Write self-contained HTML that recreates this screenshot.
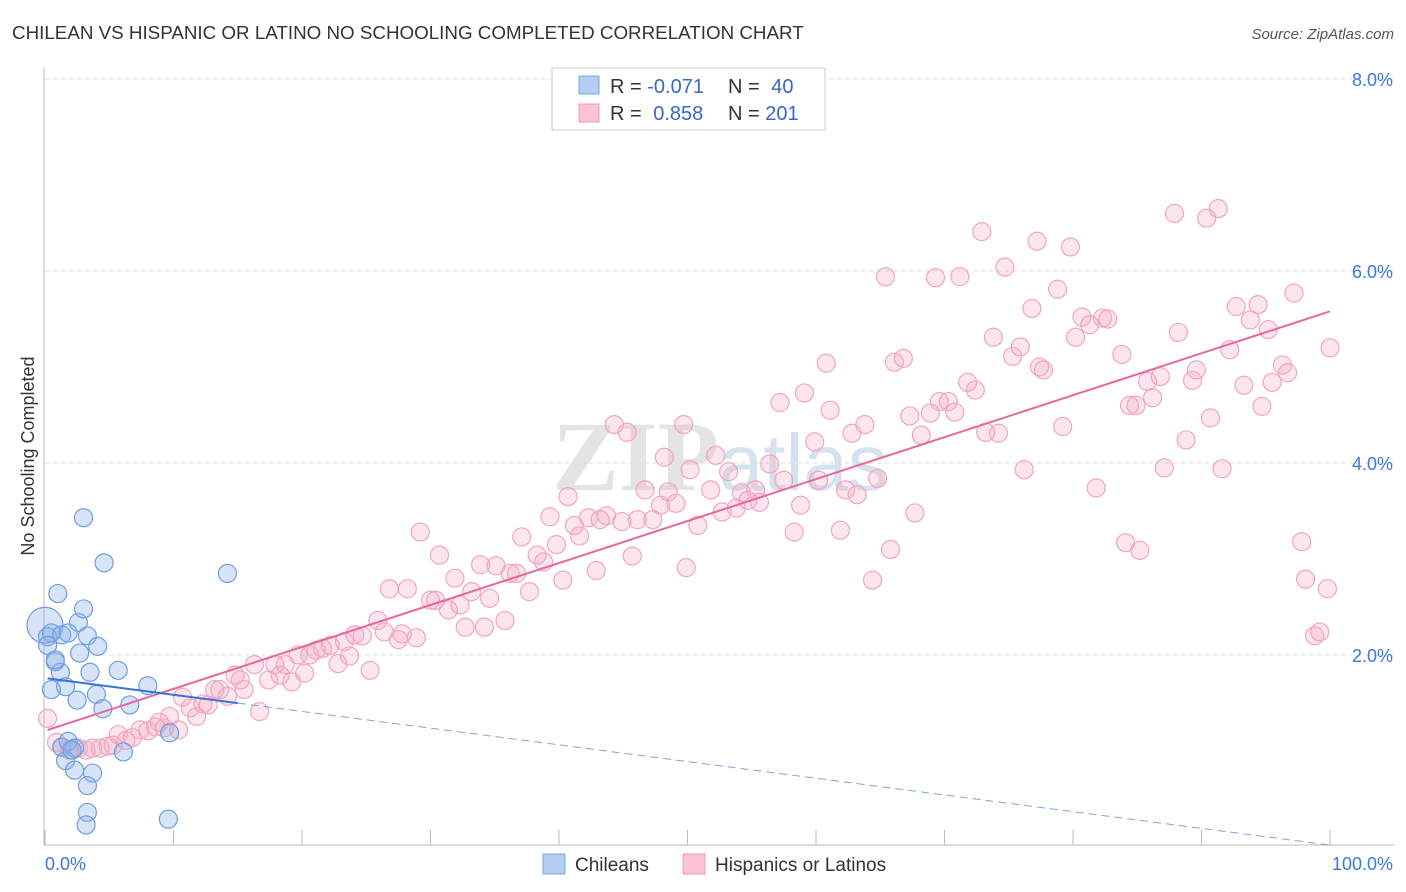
<!DOCTYPE html>
<html><head><meta charset="utf-8"><style>
body{margin:0;background:#fff;font-family:"Liberation Sans",sans-serif;}
svg{display:block}
</style></head><body>
<svg id="chart" width="1406" height="892">
<text x="12" y="39" font-size="18.8" fill="#333">CHILEAN VS HISPANIC OR LATINO NO SCHOOLING COMPLETED CORRELATION CHART</text>
<text x="1394" y="39" font-size="15" fill="#555" font-style="italic" text-anchor="end">Source: ZipAtlas.com</text>
<text x="720" y="490" font-size="100" fill="#e4e4e4" text-anchor="middle" font-family="Liberation Serif,serif" font-weight="bold">ZIP<tspan font-family="Liberation Sans" font-weight="normal" fill="#d6e2f0" font-size="80">atlas</tspan></text>
<g id="grid"></g><g id="axes"></g><g id="marks"></g>
<text transform="translate(34,456) rotate(-90)" font-size="18" fill="#333" text-anchor="middle">No Schooling Completed</text>
<g>
<rect x="552" y="68" width="273" height="62" fill="#fff" stroke="#ccc"/>
<rect x="579" y="76" width="20" height="18" fill="#b5cdf2" stroke="#7ca3dd"/>
<rect x="579" y="104" width="20" height="18" fill="#f9c3d3" stroke="#ee9bb6"/>
<text x="610" y="93" font-size="20" fill="#333">R = <tspan fill="#3568c8">-0.071</tspan></text>
<text x="728" y="93" font-size="20" fill="#333">N = <tspan fill="#3568c8" dx="6">40</tspan></text>
<text x="610" y="120" font-size="20" fill="#333">R = <tspan fill="#3568c8" dx="6">0.858</tspan></text>
<text x="728" y="120" font-size="20" fill="#333">N = <tspan fill="#3568c8">201</tspan></text>
</g>
<g><rect x="543" y="854" width="22" height="20" fill="#b5cdf2" stroke="#7ca3dd"/><text x="575" y="871" font-size="19" fill="#333">Chileans</text></g>
<g><rect x="683" y="854" width="22" height="20" fill="#f9c3d3" stroke="#ee9bb6"/><text x="715" y="871" font-size="19" fill="#333">Hispanics or Latinos</text></g>
</svg>
<script>
const yTicks=[2,4,6,8];
const yTickLabels=["2.0%","4.0%","6.0%","8.0%"];
const xEndLabels=["0.0%","100.0%"];
const blueTrend=[1.76,-0.0174];
const pinkTrend=[1.21,0.0437];
const blueX=[0,0.2,0.5,0.8,0.5,1.0,1.3,1.2,1.8,1.6,2.6,3.0,3.3,4.1,2.7,3.5,2.5,4.0,4.5,5.7,8.0,3.0,4.6,14.2,1.3,1.8,2.3,1.6,2.3,3.7,3.3,3.3,3.2,9.7,6.1,9.6,6.6,0.2,2.1,0.8];
const blueY=[2.31,2.19,2.23,1.93,1.64,2.64,2.21,1.82,2.23,1.67,2.34,2.48,2.20,2.09,2.02,1.82,1.53,1.59,1.44,1.84,1.68,3.43,2.96,2.85,1.04,1.10,1.03,0.90,0.80,0.77,0.64,0.36,0.23,1.19,0.99,0.29,1.48,2.10,1.01,1.95];
const pinkX=[0.2,0.9,1.3,1.9,2.6,3.2,3.7,4.3,4.9,5.3,5.7,6.3,6.8,7.4,8.0,8.6,8.9,9.3,9.7,10.4,10.7,11.3,11.8,12.3,12.7,13.2,13.6,14.2,14.8,15.2,15.5,16.3,16.7,17.4,17.9,18.3,18.7,19.2,19.7,20.2,20.6,21.1,21.6,22.2,22.8,23.3,23.7,24.1,24.7,25.3,25.9,26.4,26.8,27.5,27.8,28.2,28.9,29.2,30.0,30.4,30.7,31.4,31.9,32.3,32.7,33.2,33.9,34.2,34.6,35.1,35.8,36.2,36.7,37.1,37.7,38.3,38.8,39.3,39.8,40.3,40.7,41.2,41.6,42.3,42.9,43.2,43.7,44.3,44.9,45.3,45.7,46.1,46.7,47.3,47.9,48.2,48.5,49.1,49.7,49.9,50.2,50.8,51.8,52.2,52.7,53.2,53.8,54.2,54.7,55.3,55.6,56.4,57.2,57.5,58.3,58.8,59.1,59.9,60.2,60.8,61.1,61.9,62.3,62.8,63.2,63.8,64.4,64.8,65.4,65.8,66.1,66.8,67.3,67.7,68.2,68.9,69.3,69.6,70.3,70.8,71.2,71.8,72.4,72.9,73.2,73.8,74.2,74.7,75.3,75.9,76.2,76.8,77.2,77.4,77.7,78.8,79.2,79.8,80.2,80.7,81.3,81.8,82.3,82.7,83.8,84.1,84.4,84.9,85.2,85.8,86.2,86.8,87.1,87.9,88.2,88.8,89.3,89.6,90.4,90.7,91.3,91.6,92.2,92.7,93.3,93.8,94.4,94.7,95.2,95.5,96.3,96.7,97.2,97.8,98.1,98.8,99.2,99.8,100.0];
const pinkY=[1.34,1.09,1.04,1.01,1.03,1.01,1.03,1.03,1.05,1.06,1.17,1.11,1.14,1.22,1.21,1.25,1.30,1.24,1.36,1.22,1.56,1.45,1.36,1.49,1.48,1.64,1.64,1.57,1.79,1.74,1.64,1.90,1.41,1.74,1.90,1.79,1.90,1.72,2.00,1.81,2.00,2.05,2.07,2.10,1.91,2.14,1.99,2.21,2.20,1.84,2.36,2.24,2.69,2.16,2.22,2.69,2.18,3.28,2.57,2.57,3.04,2.47,2.80,2.52,2.29,2.66,2.94,2.29,2.59,2.93,2.36,2.85,2.85,3.23,2.66,3.04,2.97,3.44,3.15,2.78,3.65,3.35,3.24,3.43,2.88,3.41,3.45,4.40,3.39,4.32,3.03,3.41,3.72,3.41,3.56,4.06,3.70,3.58,4.40,2.91,3.93,3.35,3.72,4.08,3.49,3.91,3.53,3.69,3.61,3.72,3.59,3.99,4.63,3.82,3.28,3.56,4.73,4.22,3.82,5.04,4.55,3.30,3.72,4.31,3.67,4.40,2.78,3.84,5.94,3.10,5.05,5.09,4.49,3.48,4.29,4.52,5.93,4.64,4.64,4.53,5.94,4.84,4.76,6.41,4.32,5.31,4.31,6.04,5.11,5.21,3.93,5.61,6.31,5.00,4.97,5.81,4.38,6.25,5.31,5.52,5.44,3.74,5.51,5.50,5.13,3.17,4.60,4.60,3.09,4.85,4.68,4.90,3.95,6.60,5.36,4.24,4.86,4.97,6.55,4.47,6.65,3.94,5.18,5.63,4.81,5.49,5.65,4.59,5.39,4.84,5.02,4.94,5.77,3.18,2.79,2.20,2.24,2.69,5.20];

const NS="http://www.w3.org/2000/svg";
const X0=45,X1=1330,Y0=847,PY=96;
const sx=v=>X0+(X1-X0)*v/100;
const sy=v=>Y0-v*PY;
function mk(tag,attrs,parent){const e=document.createElementNS(NS,tag);for(const k in attrs)e.setAttribute(k,attrs[k]);parent.appendChild(e);return e;}
const grid=document.getElementById('grid'),axes=document.getElementById('axes'),marks=document.getElementById('marks');
yTicks.forEach((t,i)=>{
  const l=mk('line',{x1:45,x2:1394,y1:sy(t),y2:sy(t),stroke:'#ddd','stroke-dasharray':'4,4'},grid);
  
  
  const tx=mk('text',{x:1393,y:sy(t)+7,'font-size':18,fill:'#3b78d8','text-anchor':'end'},axes);
  tx.textContent=yTickLabels[i];
  
  
});
const al=mk('line',{x1:44,x2:44,y1:68,y2:845,stroke:'#bbb'},axes);


const bl=mk('line',{x1:44,x2:1394,y1:845,y2:845,stroke:'#bbb'},axes);


for(let i=0;i<=10;i++){
  const t=mk('line',{x1:sx(i*10),x2:sx(i*10),y1:830,y2:845,stroke:'#bbb'},axes);
  
  
}
[[0,'start',45],[1,'end',1393]].forEach(([i,a,x])=>{
  const t=mk('text',{x:x,y:870,'font-size':18,fill:'#3b78d8','text-anchor':a},axes);
  t.textContent=xEndLabels[i];
  
  
});
pinkX.forEach((x,i)=>{
  const c=mk('circle',{cx:sx(x),cy:sy(pinkY[i]),r:9,fill:'rgba(246,170,196,0.3)',stroke:'#f0a6bf','stroke-width':1.2},marks);
  
  
});
blueX.forEach((x,i)=>{
  const c=mk('circle',{cx:sx(x),cy:sy(blueY[i]),r:i===0?18:9,fill:'rgba(140,178,235,0.35)',stroke:'#6f9ee0','stroke-width':1.2},marks);
  
  
});
const pf=pinkTrend;
const pl=mk('line',{x1:sx(0.2),y1:sy(pf[0]+pf[1]*0.2),x2:sx(100),y2:sy(pf[0]+pf[1]*100),stroke:'#e8679a','stroke-width':2},marks);


const bf=blueTrend;
const bmax=Math.max(...blueX)+0.8;
const b1=mk('line',{x1:sx(0.2),y1:sy(bf[0]+bf[1]*0.2),x2:sx(bmax),y2:sy(bf[0]+bf[1]*bmax),stroke:'#3a73d6','stroke-width':2},marks);


const b2=mk('line',{x1:sx(bmax),y1:sy(bf[0]+bf[1]*bmax),x2:sx(100),y2:sy(bf[0]+bf[1]*100),stroke:'#7ea4e0','stroke-width':1,'stroke-dasharray':'8,5'},marks);


</script>
</body></html>
